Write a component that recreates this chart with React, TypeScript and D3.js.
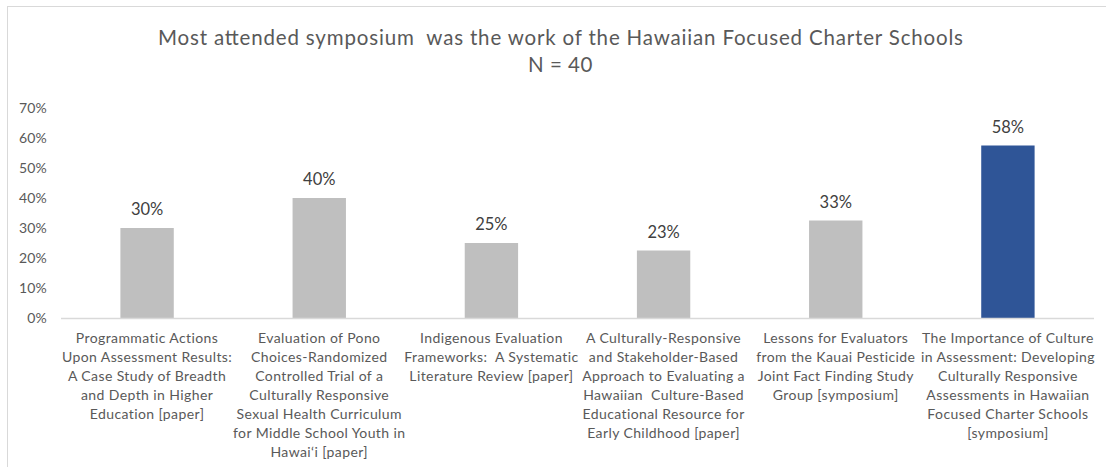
import React from "react";
import * as d3 from "d3";

const categories: string[][] = [
  ["Programmatic Actions", "Upon Assessment Results:", "A Case Study of Breadth", "and Depth in Higher", "Education [paper]"],
  ["Evaluation of Pono", "Choices-Randomized", "Controlled Trial of a", "Culturally Responsive", "Sexual Health Curriculum", "for Middle School Youth in", "Hawai‘i [paper]"],
  ["Indigenous Evaluation", "Frameworks:  A Systematic", "Literature Review [paper]"],
  ["A Culturally-Responsive", "and Stakeholder-Based", "Approach to Evaluating a", "Hawaiian  Culture-Based", "Educational Resource for", "Early Childhood [paper]"],
  ["Lessons for Evaluators", "from the Kauai Pesticide", "Joint Fact Finding Study", "Group [symposium]"],
  ["The Importance of Culture", "in Assessment: Developing", "Culturally Responsive", "Assessments in Hawaiian", "Focused Charter Schools", "[symposium]"],
];
const values: number[] = [30, 40, 25, 22.5, 32.5, 57.5];
const highlight: boolean[] = [false, false, false, false, false, true];
const yTicks: number[] = [0, 10, 20, 30, 40, 50, 60, 70];
const titleLines: string[] = ["Most attended symposium  was the work of the Hawaiian Focused Charter Schools", "N = 40"];

const W = 1106;
const H = 467;
const FONT = "Lato, 'Open Sans', sans-serif";

export default function App() {
  const left = 61, right = 1094, top = 108, bottom = 318;
  const x = d3.scaleBand<number>().domain(values.map((_, i) => i)).range([left, right]).paddingInner(0.69).paddingOuter(0.345);
  const y = d3.scaleLinear().domain([0, 70]).range([bottom, top]);
  const bw = x.bandwidth();
  return (
    <svg width={W} height={H} style={{ position: "absolute", left: 0, top: 0, background: "#fff" }} fontFamily={FONT}>
      <rect x={7.5} y={6.5} width={1200} height={600} fill="#fff" stroke="#d9d9d9" strokeWidth={1} />
      <text x={560.5} y={45} textAnchor="middle" fontSize={20.5} fill="#595959" textLength={805} lengthAdjust="spacing" style={{ whiteSpace: "pre" }}>{titleLines[0]}</text>
      <text x={560.5} y={72} textAnchor="middle" fontSize={20.5} fill="#595959" letterSpacing={0.5}>{titleLines[1]}</text>
      {yTicks.map((t) => (
        <text key={t} x={47} y={y(t) + 5} textAnchor="end" fontSize={14} fill="#595959" letterSpacing={0.2}>{t}%</text>
      ))}
      {values.map((v, i) => (
        <g key={i}>
          <rect x={x(i)} y={y(v)} width={bw} height={y(0) - y(v)} fill={highlight[i] ? "#2f5597" : "#bfbfbf"} />
          <text x={(x(i) as number) + bw / 2} y={y(v) - 13} textAnchor="middle" fontSize={16.5} fill="#404040">{Math.round(v)}%</text>
        </g>
      ))}
      <line x1={left} x2={right} y1={bottom + 0.5} y2={bottom + 0.5} stroke="#d9d9d9" strokeWidth={1.5} />
      {categories.map((lines, i) => (
        <text key={i} textAnchor="middle" fontSize={14} fill="#595959" letterSpacing={0.4}>
          {lines.map((l, j) => (
            <tspan key={j} x={(x(i) as number) + bw / 2} y={343 + j * 19} style={{ whiteSpace: "pre" }}>{l}</tspan>
          ))}
        </text>
      ))}
    </svg>
  );
}
